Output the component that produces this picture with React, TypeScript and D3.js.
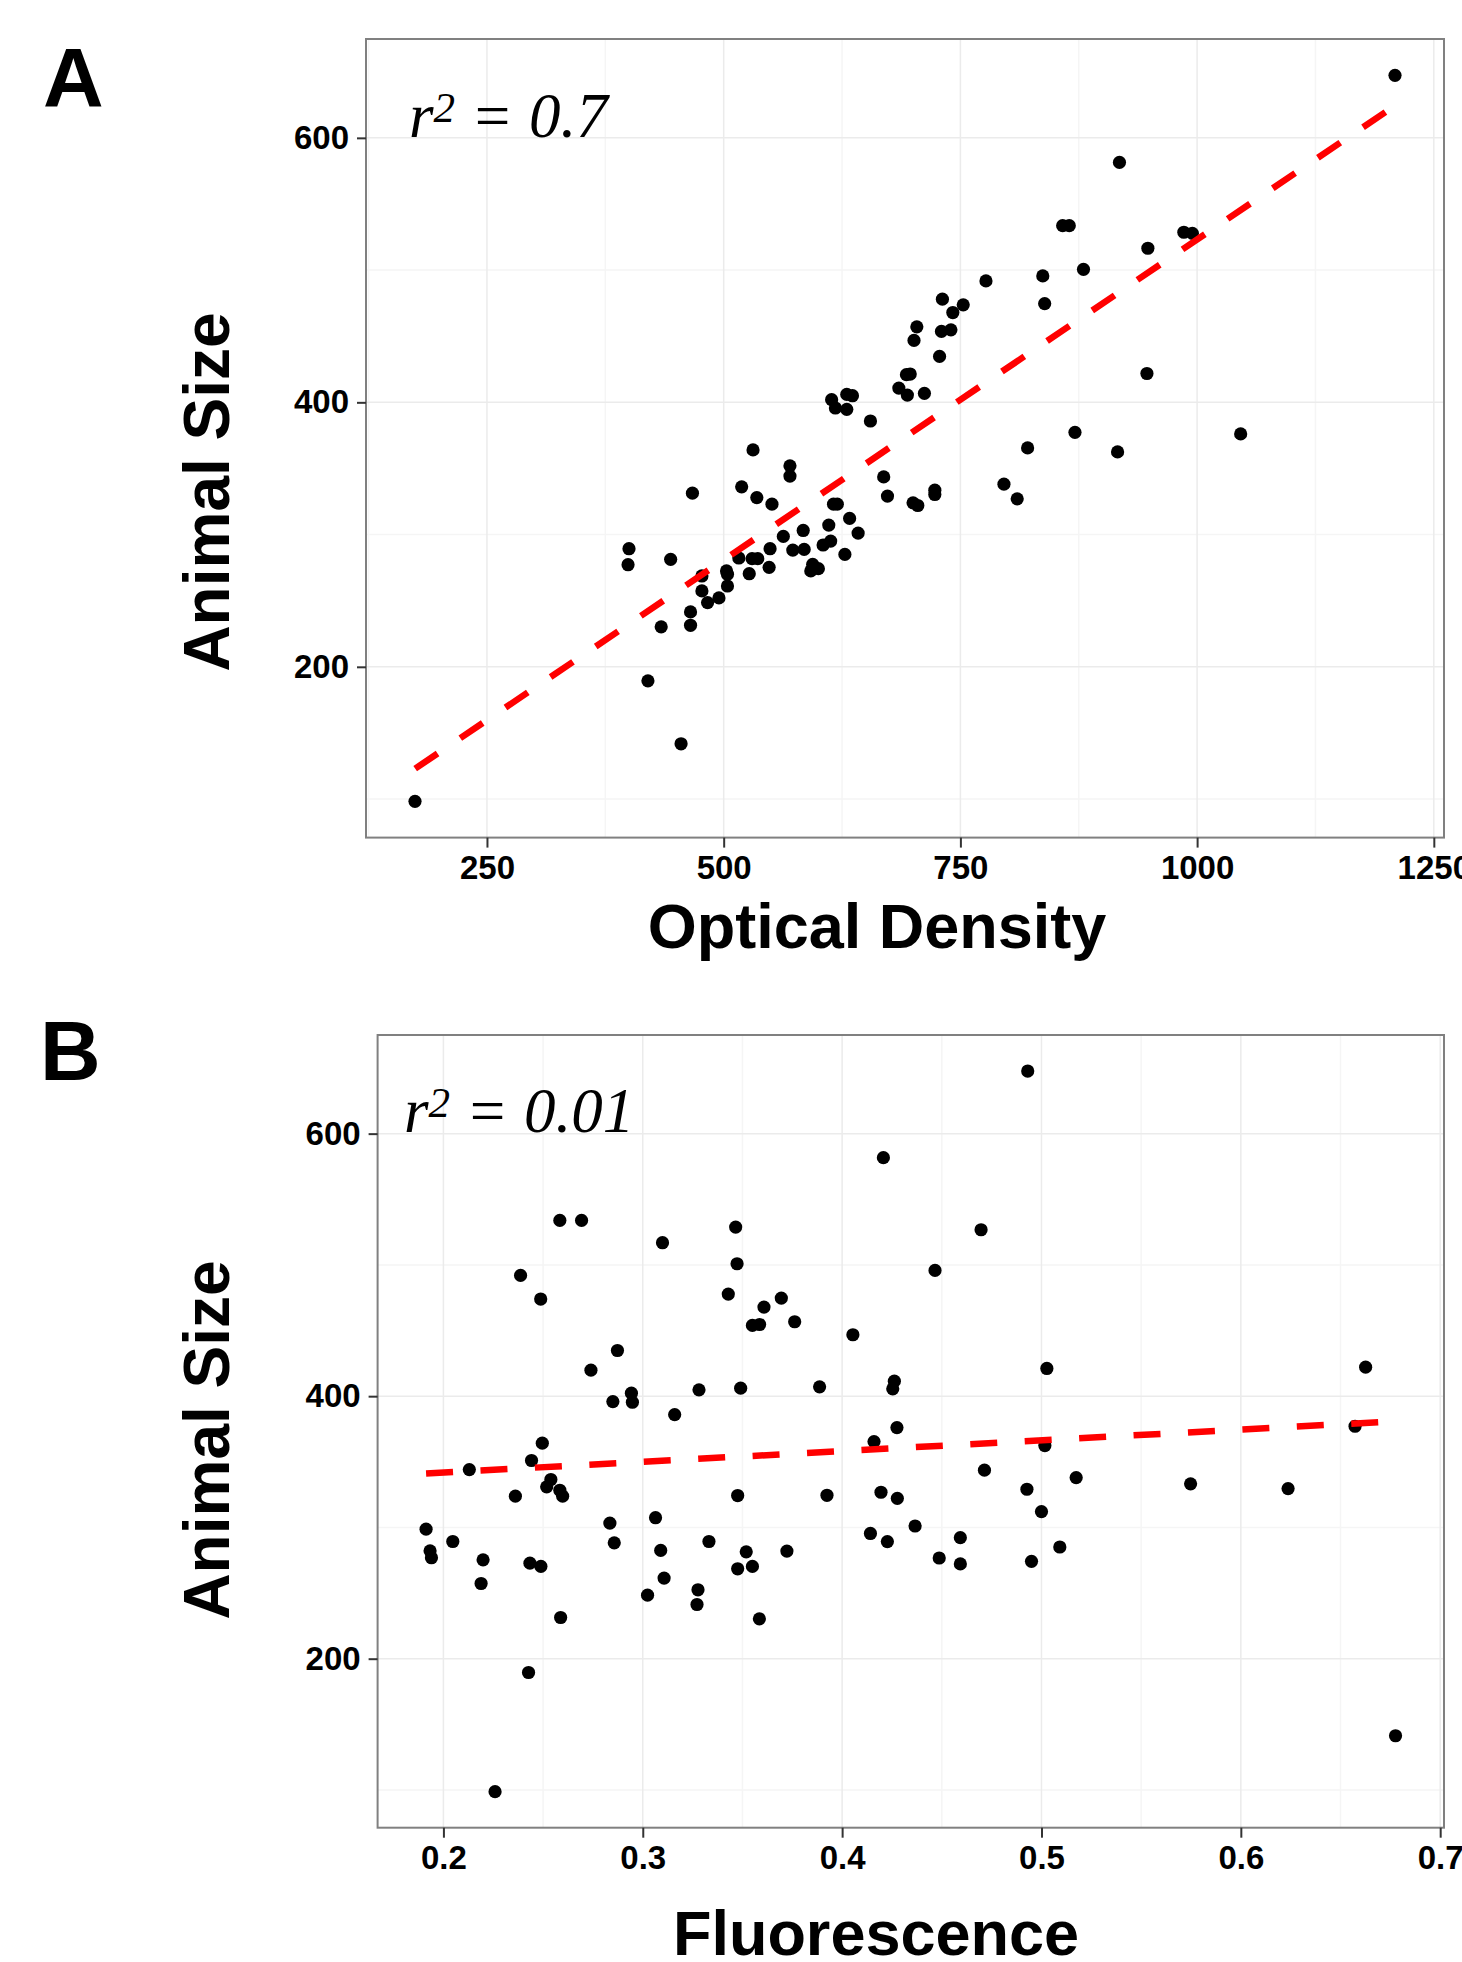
import React, { useEffect, useRef } from 'react';
import * as d3 from 'd3';

// panel A: optical density vs animal size
const opticalDensity = [
  777, 731, 753, 742, 704, 730, 740, 701, 728, 693, 697, 685, 694, 712, 614, 618, 630, 636, 630, 655,
  531, 570, 570, 467, 519, 535, 551, 669, 673, 700, 705, 723, 723, 796, 810, 616, 620, 633, 611, 642,
  584, 563, 613, 605, 549, 573, 585, 628, 594, 600, 592, 516, 530, 536, 548, 527, 503, 504, 504, 477,
  477, 483, 495, 465, 465, 434, 400, 399, 444, 1209, 918, 858, 865, 986, 995, 948, 880, 837, 839, 947,
  871, 1046, 821, 916, 420, 455, 174,
];
const sizeA = [
  491.8, 478.0, 473.7, 467.9, 457.1, 453.6, 454.8, 446.8, 434.7, 420.9, 421.4, 410.8, 405.5, 406.8, 402.0, 395.7, 406.0, 405.0, 394.7, 385.9,
  364.0, 352.0, 344.2, 331.3, 336.1, 328.0, 323.0, 343.6, 329.1, 324.0, 322.0, 333.6, 330.3, 338.1, 327.0, 323.0, 323.0, 312.2, 307.2, 301.1,
  303.1, 298.6, 295.1, 292.1, 289.3, 288.3, 288.8, 285.0, 277.5, 274.2, 272.5, 282.3, 281.8, 281.8, 275.2, 270.4, 272.5, 270.0, 261.1, 268.7,
  257.4, 248.6, 252.1, 241.5, 231.4, 230.2, 289.3, 277.2, 281.3, 647.3, 581.4, 533.6, 533.6, 528.6, 527.8, 516.5, 500.6, 495.6, 474.7, 421.8,
  377.3, 376.1, 365.5, 362.5, 189.4, 141.8, 98.3,
];

// panel B: fluorescence vs animal size
const fluorescence = [
  0.2584, 0.2693, 0.3099, 0.3466, 0.3473, 0.2387, 0.2488, 0.3429, 0.3695, 0.3608,
  0.3550, 0.3586, 0.3762, 0.4054, 0.2873, 0.2740, 0.2943, 0.2948, 0.2850, 0.3160,
  0.3282, 0.3491, 0.3887, 0.2496, 0.2442, 0.2130, 0.2539, 0.2518, 0.2584, 0.2598,
  0.2361, 0.3476, 0.3924, 0.1913, 0.1933, 0.1940, 0.2047, 0.2199, 0.2189, 0.2434,
  0.2489, 0.2588, 0.2427, 0.2259, 0.2835, 0.2857, 0.3064, 0.3090, 0.3107, 0.3024,
  0.3332, 0.3277, 0.3272, 0.3519, 0.3476, 0.3550, 0.3585, 0.3723, 0.4142, 0.5027,
  0.4262, 0.4254, 0.4275, 0.4160, 0.5017, 0.4714, 0.4927, 0.5174, 0.5748, 0.4195,
  0.4277, 0.5000, 0.4366, 0.4227, 0.4593, 0.4487, 0.4593, 0.4950, 0.5092, 0.4931,
  0.4207, 0.4697, 0.4466, 0.6626, 0.6573, 0.6237, 0.6776,
];
const sizeB = [
  533.9, 533.9, 516.9, 528.8, 500.9, 492.0, 474.0, 477.8, 474.7, 467.9,
  453.9, 454.6, 456.7, 446.8, 434.8, 419.8, 402.3, 395.4, 395.9, 386.0,
  404.8, 406.1, 407.1, 364.2, 351.0, 344.1, 336.5, 330.9, 328.3, 323.8,
  323.8, 324.3, 324.5, 298.7, 282.2, 276.9, 289.3, 275.3, 257.3, 272.8,
  270.3, 231.4, 189.5, 98.7, 303.3, 288.3, 307.4, 282.5, 261.4, 248.4,
  289.3, 252.5, 241.3, 281.4, 268.5, 270.3, 230.4, 282.0, 295.4, 421.1,
  411.4, 405.6, 376.1, 365.4, 362.4, 343.6, 329.1, 338.0, 333.2, 326.8,
  322.2, 312.1, 301.1, 289.2, 292.2, 276.7, 272.2, 274.2, 285.1, 647.7,
  581.7, 526.8, 495.8, 422.1, 377.1, 329.6, 141.3,
];

// regression line ends
const fitAx = [174.2, 1209.2];
const fitAy = [123, 624.5];
const fitBx = [0.1913, 0.6776];
const fitBy = [341.1, 380.9];

const odTicks = [250, 500, 750, 1000, 1250];
const flTicks = [0.2, 0.3, 0.4, 0.5, 0.6, 0.7];
const sizeTicks = [200, 400, 600];

const W = 1462;
const H = 1962;
const SANS = "'Liberation Sans', Arial, Helvetica, sans-serif";
const SERIF = "'Liberation Serif', 'Times New Roman', serif";

const panels = [
  {
    letter: 'A', xs: opticalDensity, ys: sizeA, xTicks: odTicks, fmt: (d: number) => String(d),
    fitX: fitAx, fitY: fitAy, r2: '0.7', xTitle: 'Optical Density',
    box: { l: 366, t: 39, r: 1444, b: 837.6 },
    letterPos: [43, 107], r2Pos: [409, 137], xTitlePos: [877, 948], yTitlePos: [229, 492],
  },
  {
    letter: 'B', xs: fluorescence, ys: sizeB, xTicks: flTicks, fmt: d3.format('.1f'),
    fitX: fitBx, fitY: fitBy, r2: '0.01', xTitle: 'Fluorescence',
    box: { l: 377.6, t: 1035, r: 1444, b: 1827.7 },
    letterPos: [40, 1080], r2Pos: [404, 1132], xTitlePos: [876, 1955], yTitlePos: [229, 1440],
  },
];

// ggplot style 5% expansion
const expand = (ext: [number, number]) => {
  const pad = (ext[1] - ext[0]) * 0.05;
  return [ext[0] - pad, ext[1] + pad];
};

const minorOf = (ticks: number[], domain: number[]) => {
  const step = ticks[1] - ticks[0];
  const vals = [ticks[0] - step / 2, ...ticks.map(t => t + step / 2)];
  return vals.filter(v => v > domain[0] && v < domain[1]);
};

const App = () => {
  const ref = useRef<SVGSVGElement>(null);

  useEffect(() => {
    document.body.style.margin = '0';
    document.body.style.overflow = 'hidden';

    const svg = d3.select(ref.current);
    svg.selectAll('*').remove();

    panels.forEach(p => {
      const { l, t, r, b } = p.box;
      const xDom = expand(d3.extent(p.xs) as [number, number]);
      const yDom = expand(d3.extent(p.ys) as [number, number]);
      const x = d3.scaleLinear().domain(xDom).range([l, r]);
      const y = d3.scaleLinear().domain(yDom).range([b, t]);
      const g = svg.append('g');

      // grid: minor then major
      const grid = g.append('g').attr('fill', 'none');
      grid.selectAll('.vminor').data(minorOf(p.xTicks, xDom)).enter().append('line')
        .attr('x1', d => x(d)).attr('x2', d => x(d)).attr('y1', t).attr('y2', b)
        .attr('stroke', '#f5f5f5').attr('stroke-width', 1.5);
      grid.selectAll('.hminor').data(minorOf(sizeTicks, yDom)).enter().append('line')
        .attr('y1', d => y(d)).attr('y2', d => y(d)).attr('x1', l).attr('x2', r)
        .attr('stroke', '#f5f5f5').attr('stroke-width', 1.5);
      grid.selectAll('.vmajor').data(p.xTicks.filter(v => v >= xDom[0] && v <= xDom[1])).enter().append('line')
        .attr('x1', d => x(d)).attr('x2', d => x(d)).attr('y1', t).attr('y2', b)
        .attr('stroke', '#ebebeb').attr('stroke-width', 1.5);
      grid.selectAll('.hmajor').data(sizeTicks).enter().append('line')
        .attr('y1', d => y(d)).attr('y2', d => y(d)).attr('x1', l).attr('x2', r)
        .attr('stroke', '#ebebeb').attr('stroke-width', 1.5);

      // points
      g.selectAll('.dot').data(p.xs).enter().append('circle')
        .attr('cx', d => x(d)).attr('cy', (d, i) => y(p.ys[i]))
        .attr('r', 6.6).attr('fill', 'black');

      // dashed fit
      const line = d3.line<number>().x(d => x(d)).y((d, i) => y(p.fitY[i]));
      g.append('path').datum(p.fitX)
        .attr('d', line)
        .attr('fill', 'none').attr('stroke', 'red').attr('stroke-width', 6.5)
        .attr('stroke-dasharray', '27 27.5');

      // border
      g.append('rect').attr('x', l).attr('y', t).attr('width', r - l).attr('height', b - t)
        .attr('fill', 'none').attr('stroke', '#808080').attr('stroke-width', 2);

      // axes
      const xAxis = g.append('g').attr('transform', `translate(0,${b})`)
        .call(d3.axisBottom(x).tickValues(p.xTicks).tickFormat(p.fmt as any).tickSize(10).tickPadding(8));
      const yAxis = g.append('g').attr('transform', `translate(${l},0)`)
        .call(d3.axisLeft(y).tickValues(sizeTicks).tickSize(9).tickPadding(8));
      [xAxis, yAxis].forEach(a => {
        a.select('.domain').remove();
        a.attr('font-size', null).attr('font-family', null);
        a.selectAll('line').attr('stroke', '#333').attr('stroke-width', 2);
        a.selectAll('text').attr('fill', 'black').attr('font-family', SANS)
          .attr('font-weight', 'bold').attr('font-size', 33);
      });

      // titles
      g.append('text').attr('x', p.xTitlePos[0]).attr('y', p.xTitlePos[1])
        .attr('text-anchor', 'middle').attr('font-family', SANS).attr('font-weight', 'bold')
        .attr('font-size', 63).text(p.xTitle);
      g.append('text')
        .attr('transform', `translate(${p.yTitlePos[0]},${p.yTitlePos[1]}) rotate(-90)`)
        .attr('text-anchor', 'middle').attr('font-family', SANS).attr('font-weight', 'bold')
        .attr('font-size', 64).text('Animal Size');

      // panel letter
      g.append('text').attr('x', p.letterPos[0]).attr('y', p.letterPos[1])
        .attr('font-family', SANS).attr('font-weight', 'bold').attr('font-size', 84)
        .text(p.letter);

      // r squared
      const r2 = g.append('text').attr('x', p.r2Pos[0]).attr('y', p.r2Pos[1])
        .attr('font-family', SERIF).attr('font-style', 'italic').attr('font-size', 63);
      r2.append('tspan').text('r');
      r2.append('tspan').attr('dy', -15).attr('font-size', 43).text('2');
      r2.append('tspan').attr('dy', 15).text('\u00a0=\u00a0' + p.r2);
    });
  }, []);

  return <svg ref={ref} width={W} height={H} style={{ display: 'block', background: 'white' }} />;
};

export default App;
